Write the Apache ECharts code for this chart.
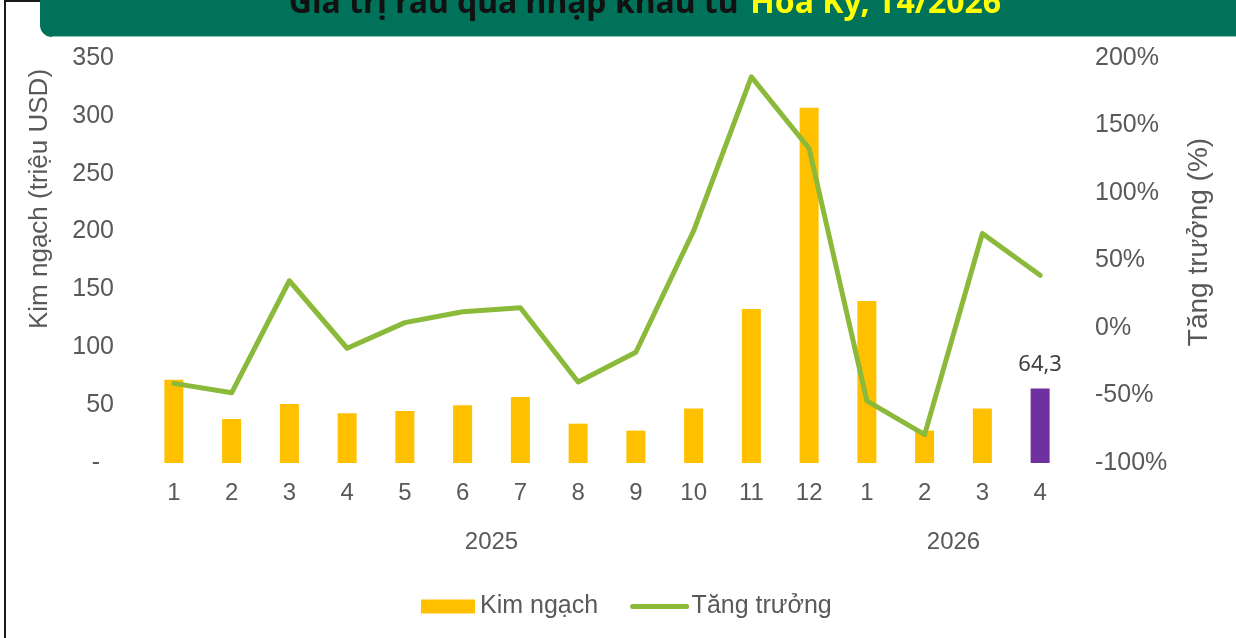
<!DOCTYPE html>
<html>
<head>
<meta charset="utf-8">
<script src="https://cdn.jsdelivr.net/npm/echarts@6/dist/echarts.min.js"></script>
<style>
  html, body { margin: 0; padding: 0; background: #fff; }
  #chart { width: 1236px; height: 638px; }
</style>
</head>
<body>
<div id="chart"></div>
<script>
// Monthly labels (2025: 1..12, 2026: 1..4)
const months = ['1','2','3','4','5','6','7','8','9','10','11','12','1','2','3','4'];
// Year group labels, centred under their months
const years = ['2025', '2026'];
const yearCenters = [6, 14]; // positions on the 0..16 helper axis
// Import value, million USD
const kimNgach = [72, 38, 51, 43, 45, 50, 57, 34, 28, 47, 133, 307, 140, 28, 47, 64.3];
// Growth, %
const tangTruong = [-41, -48, 35, -15, 4, 12, 15, -40, -18, 72, 186, 133, -54, -79, 70, 39];
// Left / right axis ticks
const leftTicks = { min: 0, max: 350, interval: 50 };
const rightTicks = { min: -100, max: 200, interval: 50 };

const GREEN = '#8BB93A';
const GOLD = '#FFC000';
const PURPLE = '#7030A0';
const AXIS_TXT = '#595959';
const FONT = '"Liberation Sans", Arial, sans-serif';

const last = kimNgach.length - 1;
const barData = kimNgach.map((v, i) => i === last ? {
  value: v,
  itemStyle: { color: PURPLE },
  label: {
    show: true, position: 'top', distance: 13,
    formatter: p => String(p.value).replace('.', ','),
    fontFamily: '"Noto Sans", sans-serif', fontSize: 22, color: '#404040'
  }
} : v);

const chart = echarts.init(document.getElementById('chart'), null, { renderer: 'canvas' });

chart.setOption({
  animation: false,
  backgroundColor: '#fff',
  grid: { left: 145, right: 167, top: 58, bottom: 175 },
  legend: {
    left: 416, top: 589,
    itemWidth: 54, itemHeight: 14, itemGap: 32,
    textStyle: { fontFamily: FONT, fontSize: 25, color: AXIS_TXT },
    data: [
      { name: 'Kim ngạch', icon: 'rect' },
      { name: 'Tăng trưởng', itemStyle: { opacity: 0 },
        lineStyle: { width: 5, cap: 'round', color: GREEN } }
    ]
  },
  xAxis: [
    {
      type: 'category', data: months,
      axisLine: { show: false }, axisTick: { show: false },
      axisLabel: { margin: 18, fontFamily: FONT, fontSize: 24, color: AXIS_TXT, interval: 0 }
    },
    {
      type: 'value', min: 0, max: months.length, interval: 2, position: 'bottom',
      axisLine: { show: false }, axisTick: { show: false }, splitLine: { show: false },
      axisLabel: {
        margin: 67, fontFamily: FONT, fontSize: 24, color: AXIS_TXT,
        formatter: v => { const k = yearCenters.indexOf(v); return k >= 0 ? years[k] : ''; }
      }
    }
  ],
  yAxis: [
    {
      type: 'value', ...leftTicks,
      axisLine: { show: false }, axisTick: { show: false }, splitLine: { show: false },
      axisLabel: {
        margin: 31, fontFamily: FONT, fontSize: 25, color: AXIS_TXT,
        formatter: v => v === 0 ? '-  ' : String(v)
      }
    },
    {
      type: 'value', ...rightTicks,
      axisLine: { show: false }, axisTick: { show: false }, splitLine: { show: false },
      axisLabel: {
        margin: 26, fontFamily: FONT, fontSize: 25, color: AXIS_TXT,
        formatter: v => v + '%'
      }
    }
  ],
  series: [
    {
      name: 'Kim ngạch', type: 'bar', xAxisIndex: 0, yAxisIndex: 0,
      barWidth: 19, itemStyle: { color: GOLD }, data: barData
    },
    {
      name: 'Tăng trưởng', type: 'line', xAxisIndex: 0, yAxisIndex: 1,
      symbol: 'none', itemStyle: { color: GREEN },
      lineStyle: { color: GREEN, width: 5, cap: 'round', join: 'round' },
      data: tangTruong
    }
  ],
  graphic: [
    // page frame (left and top edges)
    { type: 'rect', shape: { x: 4, y: 0, width: 2, height: 638 }, style: { fill: '#1a1a1a' }, silent: true },
    { type: 'rect', shape: { x: 4, y: 0, width: 1232, height: 2 }, style: { fill: '#1a1a1a' }, silent: true },
    // title banner
    { type: 'rect', shape: { x: 40, y: -12, width: 1210, height: 49, r: [0, 0, 0, 12] },
      style: { fill: '#00725A' }, silent: true },
    { type: 'rect', shape: { x: 52, y: 36, width: 1184, height: 1 },
      style: { fill: '#8FC7B6' }, silent: true },
    {
      type: 'text', x: 645, y: 4, silent: true,
      style: {
        text: '{a|Giá trị rau quả nhập khẩu từ }{b|Hoa Kỳ, T4/2026}',
        textAlign: 'center', textVerticalAlign: 'middle',
        font: 'bold 32px "Noto Sans", sans-serif',
        rich: {
          a: { fontFamily: '"Noto Sans", sans-serif', fontWeight: 'bold', fontSize: 32, fill: '#111111', color: '#111111' },
          b: { fontFamily: '"Noto Sans", sans-serif', fontWeight: 'bold', fontSize: 32, fill: '#FFFF00', color: '#FFFF00' }
        }
      }
    },
    // axis titles
    {
      type: 'text', x: 40, y: 199, rotation: Math.PI / 2, silent: true,
      style: { text: 'Kim ngạch (triệu USD)', textAlign: 'center', textVerticalAlign: 'middle',
        font: '26px ' + FONT, fill: AXIS_TXT }
    },
    {
      type: 'text', x: 1199, y: 242, rotation: Math.PI / 2, silent: true,
      style: { text: 'Tăng trưởng (%)', textAlign: 'center', textVerticalAlign: 'middle',
        font: '28px ' + FONT, fill: AXIS_TXT }
    }
  ]
});
</script>
</body>
</html>
